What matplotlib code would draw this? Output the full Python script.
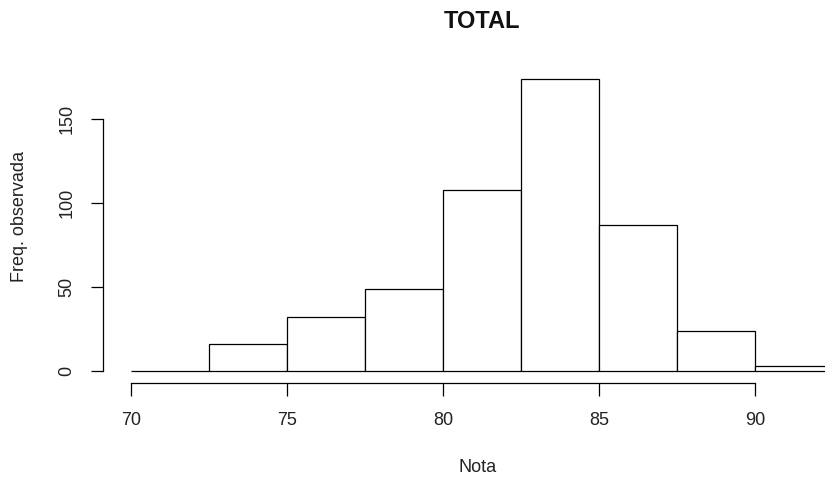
import matplotlib
matplotlib.use("Agg")
import matplotlib.pyplot as plt

plt.rcParams['font.family'] = ['Liberation Sans', 'DejaVu Sans']

# histogram bins (left edges) and counts
bin_left = [70, 72.5, 75, 77.5, 80, 82.5, 85, 87.5, 90]
counts = [0, 16, 32, 49, 108, 174, 87, 24, 3]
bin_width = 2.5
xticks = [70, 75, 80, 85, 90]
yticks = [0, 50, 100, 150]

W, H = 825, 479
fig = plt.figure(figsize=(W / 100, H / 100), dpi=100)
# axes box in pixels: left 103, right 825, top 60, bottom 383
ax = fig.add_axes([103 / W, (H - 383) / H, 722 / W, (383 - 60) / H])

ax.bar(bin_left, counts, width=bin_width, align='edge',
       facecolor='white', edgecolor='black', linewidth=0.9, clip_on=True)

ax.set_xlim(70 - 28 / 31.2, 70 + 694 / 31.2)
ax.set_ylim(-12 / 1.68, 311 / 1.68)

for s in ['top', 'right']:
    ax.spines[s].set_visible(False)
ax.spines['left'].set_bounds(0, 150)
ax.spines['bottom'].set_bounds(70, 90)
for s in ['left', 'bottom']:
    ax.spines[s].set_linewidth(0.9)

ax.set_xticks(xticks)
ax.set_yticks(yticks)
ax.tick_params(axis='both', length=9, width=0.9, labelsize=13,
               colors='black', labelcolor='#222222')
ax.tick_params(axis='x', pad=12)
ax.tick_params(axis='y', pad=11)
for lab in ax.get_yticklabels():
    lab.set_rotation(90)
    lab.set_va('center')

fig.text(482 / W, 1 - 28 / H, 'TOTAL', ha='center', va='baseline',
         fontsize=17, fontweight='bold', color='#111111')
fig.text(478 / W, 1 - 467 / H, 'Nota', ha='center', va='center',
         fontsize=13, color='#222222')
fig.text(20 / W, 1 - 216 / H, 'Freq. observada', ha='center', va='center',
         rotation=90, fontsize=13, color='#222222')

fig.savefig('out.png', dpi=100)
